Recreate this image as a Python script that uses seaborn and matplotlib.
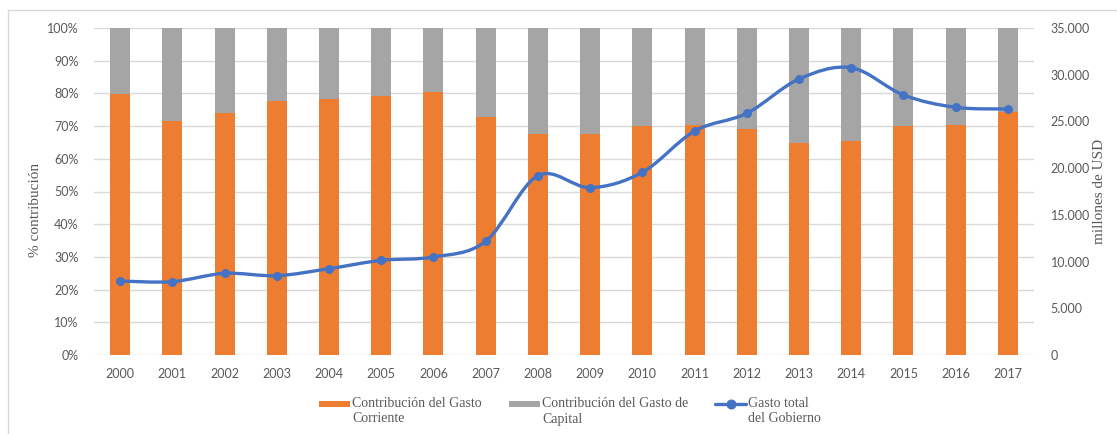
import numpy as np
import pandas as pd
import matplotlib
matplotlib.use("Agg")
import matplotlib.pyplot as plt
from matplotlib.path import Path
from matplotlib.patches import PathPatch, Rectangle
from matplotlib.lines import Line2D
from matplotlib.ticker import FuncFormatter, MultipleLocator
import seaborn as sns

# --- data -------------------------------------------------------------
years = [str(y) for y in range(2000, 2018)]
gasto_corriente = [79.8, 71.6, 74.1, 77.7, 78.4, 79.3, 80.5, 72.9, 67.7,
                   67.7, 70.1, 70.2, 69.1, 64.8, 65.4, 70.1, 70.4, 74.4]
gasto_capital = [round(100 - v, 1) for v in gasto_corriente]
gasto_total = [7920, 7850, 8740, 8490, 9240, 10130, 10490, 12170, 19190,
               17910, 19550, 23970, 25870, 29540, 30750, 27830, 26510, 26330]

label_corriente = "Contribución del Gasto\nCorriente"
label_capital = "Contribución del Gasto de\nCapital"
label_total = "Gasto total\ndel Gobierno"

ORANGE = "#ED7D31"
GRAY = "#A5A5A5"
BLUE = "#4472C4"
GRID = "#D9D9D9"
TICK = "#595959"
SANS = "Lato"
SERIF = "Liberation Serif"

df = pd.DataFrame({
    "anio": years,
    "corriente": gasto_corriente,
    "capital": gasto_capital,
    "total": gasto_total,
})
df["apilado"] = df["corriente"] + df["capital"]

sns.set_theme(style="white")
plt.rcParams["font.family"] = [SANS, "DejaVu Sans"]

W, H = 1117, 434
fig = plt.figure(figsize=(W / 100, H / 100), dpi=100)
ax = fig.add_axes([94 / W, 1 - 355 / H, (1034 - 94) / W, (355 - 28) / H])

# stacked percentage bars
sns.barplot(data=df, x="anio", y="apilado", color=GRAY, saturation=1,
            width=0.385, errorbar=None, ax=ax, linewidth=0, zorder=2)
sns.barplot(data=df, x="anio", y="corriente", color=ORANGE, saturation=1,
            width=0.385, errorbar=None, ax=ax, linewidth=0, zorder=2)

ax.set_xlim(-0.5, len(years) - 0.5)
ax.set_ylim(0, 100)
ax.yaxis.set_major_locator(MultipleLocator(10))
ax.yaxis.set_major_formatter(FuncFormatter(lambda v, _: f"{v:.0f}%"))
ax.grid(axis="y", color=GRID, linewidth=1.0)
ax.grid(axis="x", visible=False)
ax.set_axisbelow(True)
for s in ax.spines.values():
    s.set_visible(False)
ax.tick_params(axis="both", length=0, colors=TICK, labelsize=9)
ax.tick_params(axis="x", pad=9)
ax.tick_params(axis="y", pad=11)
ax.set_xlabel("")
ax.set_ylabel("% contribución", family=SERIF, fontsize=11, color=TICK,
              labelpad=4)
ax.yaxis.label.set_y(0.443)

# total spending on the secondary axis
ax2 = ax.twinx()
ax2.set_ylim(0, 35000)
ax2.yaxis.set_major_locator(MultipleLocator(5000))
ax2.yaxis.set_major_formatter(
    FuncFormatter(lambda v, _: f"{v:,.0f}".replace(",", ".")))
for s in ax2.spines.values():
    s.set_visible(False)
ax2.tick_params(axis="y", length=0, colors=TICK, labelsize=9, pad=12)
ax2.grid(False)

xs = np.arange(len(years), dtype=float)
ys = np.asarray(gasto_total, dtype=float)

# smoothed connecting curve (cubic Bezier through each point)
pts = np.column_stack([xs, ys])
ext = np.vstack([pts[0], pts, pts[-1]])
verts = [tuple(pts[0])]
codes = [Path.MOVETO]
for i in range(len(pts) - 1):
    p0, p1, p2, p3 = ext[i], ext[i + 1], ext[i + 2], ext[i + 3]
    c1 = p1 + (p2 - p0) / 6.0
    c2 = p2 - (p3 - p1) / 6.0
    verts += [tuple(c1), tuple(c2), tuple(p2)]
    codes += [Path.CURVE4] * 3
curve = PathPatch(Path(verts, codes), facecolor="none", edgecolor=BLUE,
                  linewidth=2.4, capstyle="round", joinstyle="round", zorder=3)
ax2.add_patch(curve)
sns.scatterplot(x=xs, y=ys, ax=ax2, s=42, color=BLUE, edgecolor=BLUE,
                linewidth=0, zorder=4, legend=False)
ax2.set_xlim(-0.5, len(years) - 0.5)
ax2.set_ylim(0, 35000)
ax2.set_ylabel("millones de USD", family=SERIF, fontsize=11, color=TICK,
               labelpad=2)

# chart frame
fig.patches.append(Rectangle((8 / W, -0.2), 2.0, 1.2 - 10.5 / H,
                             transform=fig.transFigure, facecolor="none",
                             edgecolor=GRID, linewidth=1.0, zorder=0))

# legend along the bottom
def fx(px):
    return px / W


def fy(py):
    return 1 - py / H

legend_font = dict(family=SERIF, fontsize=10, color=TICK, va="top",
                   ha="left", linespacing=1.25)
row = 404
text_top = 397
fig.patches.append(Rectangle((fx(319), fy(row + 3)), 31 / W, 6 / H,
                             transform=fig.transFigure, facecolor=ORANGE,
                             edgecolor="none"))
fig.text(fx(352), fy(text_top), label_corriente, **legend_font)
fig.patches.append(Rectangle((fx(509), fy(row + 3)), 31 / W, 6 / H,
                             transform=fig.transFigure, facecolor=GRAY,
                             edgecolor="none"))
fig.text(fx(542), fy(text_top), label_capital, **legend_font)
fig.lines.append(Line2D([fx(715), fx(746)], [fy(row), fy(row)],
                        transform=fig.transFigure, color=BLUE, linewidth=2.4))
fig.lines.append(Line2D([fx(730.5)], [fy(row)], transform=fig.transFigure,
                        color=BLUE, marker="o", markersize=6.2, linestyle=""))
fig.text(fx(748), fy(text_top), label_total, **legend_font)

fig.savefig("out.png", dpi=100)
